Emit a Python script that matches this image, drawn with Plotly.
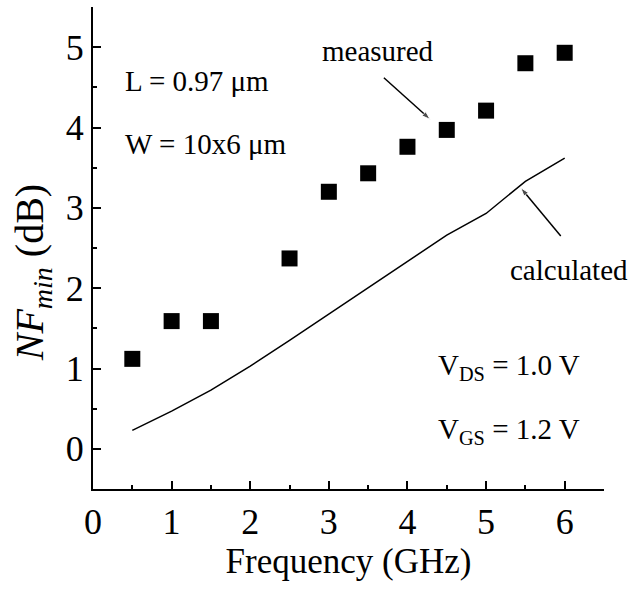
import plotly.graph_objects as go

freq_meas = [0.5, 1.0, 1.5, 2.5, 3.0, 3.5, 4.0, 4.5, 5.0, 5.5, 6.0]
nf_meas = [1.12, 1.59, 1.59, 2.37, 3.20, 3.43, 3.76, 3.97, 4.21, 4.80, 4.93]

freq_calc = [0.5, 1.0, 1.5, 2.0, 2.5, 3.0, 3.5, 4.0, 4.5, 5.0, 5.5, 6.0]
nf_calc = [0.23, 0.47, 0.73, 1.03, 1.35, 1.68, 2.01, 2.34, 2.66, 2.93, 3.33, 3.62]

x_ticks = [0, 1, 2, 3, 4, 5, 6]
y_ticks = [0, 1, 2, 3, 4, 5]

# arrow pointers (tail -> head) in data units
arrow_measured_x = [3.70, 4.29]
arrow_measured_y = [4.62, 4.10]
arrow_calc_x = [5.95, 5.44]
arrow_calc_y = [2.65, 3.25]

FONT = "Liberation Serif"

fig = go.Figure()
fig.add_trace(go.Scatter(x=freq_calc, y=nf_calc, mode="lines",
                         line=dict(color="black", width=1.5), showlegend=False, hoverinfo="skip"))
fig.add_trace(go.Scatter(x=freq_meas, y=nf_meas, mode="markers",
                         marker=dict(symbol="square", size=16, color="black"),
                         showlegend=False))
for ax_, ay_ in [(arrow_measured_x, arrow_measured_y), (arrow_calc_x, arrow_calc_y)]:
    fig.add_trace(go.Scatter(x=ax_, y=ay_, mode="lines+markers",
                             line=dict(color="black", width=1.5),
                             marker=dict(symbol="arrow", angleref="previous", size=[0, 9],
                                         color="black"),
                             showlegend=False, hoverinfo="skip"))

axis_common = dict(
    showline=True, linecolor="black", linewidth=2, mirror=False,
    showgrid=False, zeroline=False,
    ticks="inside", ticklen=8, tickwidth=2, tickcolor="black",
    tickfont=dict(family=FONT, size=36, color="black"),
    minor=dict(ticks="inside", ticklen=4, tickwidth=1.5, tickcolor="black", dtick=0.5),
)

fig.update_xaxes(range=[0, 6.5], tickvals=x_ticks, ticktext=[str(v) for v in x_ticks],
                 title=dict(text="Frequency (GHz)", font=dict(family=FONT, size=35, color="black"), standoff=6),
                 **axis_common)
fig.update_yaxes(range=[-0.5, 5.5], tickvals=y_ticks, ticktext=[str(v) for v in y_ticks],
                 **axis_common)

# y-axis title as rotated annotation (positioned like the reference)
fig.add_annotation(xref="paper", yref="paper", x=-0.119, y=0.448,
                   text="<i>NF</i><sub><i>min</i></sub> (dB)", textangle=-90,
                   showarrow=False, xanchor="center", yanchor="middle",
                   font=dict(family=FONT, size=40, color="black"))

ann_font = dict(family=FONT, size=29, color="black")
annotations = [
    dict(x=0.38, y=4.58, text="L = 0.97 μm", xanchor="left", yanchor="middle"),
    dict(x=0.38, y=3.79, text="W = 10x6 μm", xanchor="left", yanchor="middle"),
    dict(x=4.36, y=1.02, text="V<sub>DS</sub> = 1.0 V", xanchor="left", yanchor="middle"),
    dict(x=4.36, y=0.22, text="V<sub>GS</sub> = 1.2 V", xanchor="left", yanchor="middle"),
    dict(x=3.62, y=4.95, text="measured", xanchor="center", yanchor="middle"),
    dict(x=6.05, y=2.23, text="calculated", xanchor="center", yanchor="middle"),
]
for a in annotations:
    fig.add_annotation(xref="x", yref="y", showarrow=False, font=ann_font, **a)

fig.update_layout(
    width=631, height=589,
    margin=dict(l=93, r=27, t=7, b=100),
    plot_bgcolor="white", paper_bgcolor="white",
    font=dict(family=FONT, color="black"),
)

fig.write_html("out.html")
